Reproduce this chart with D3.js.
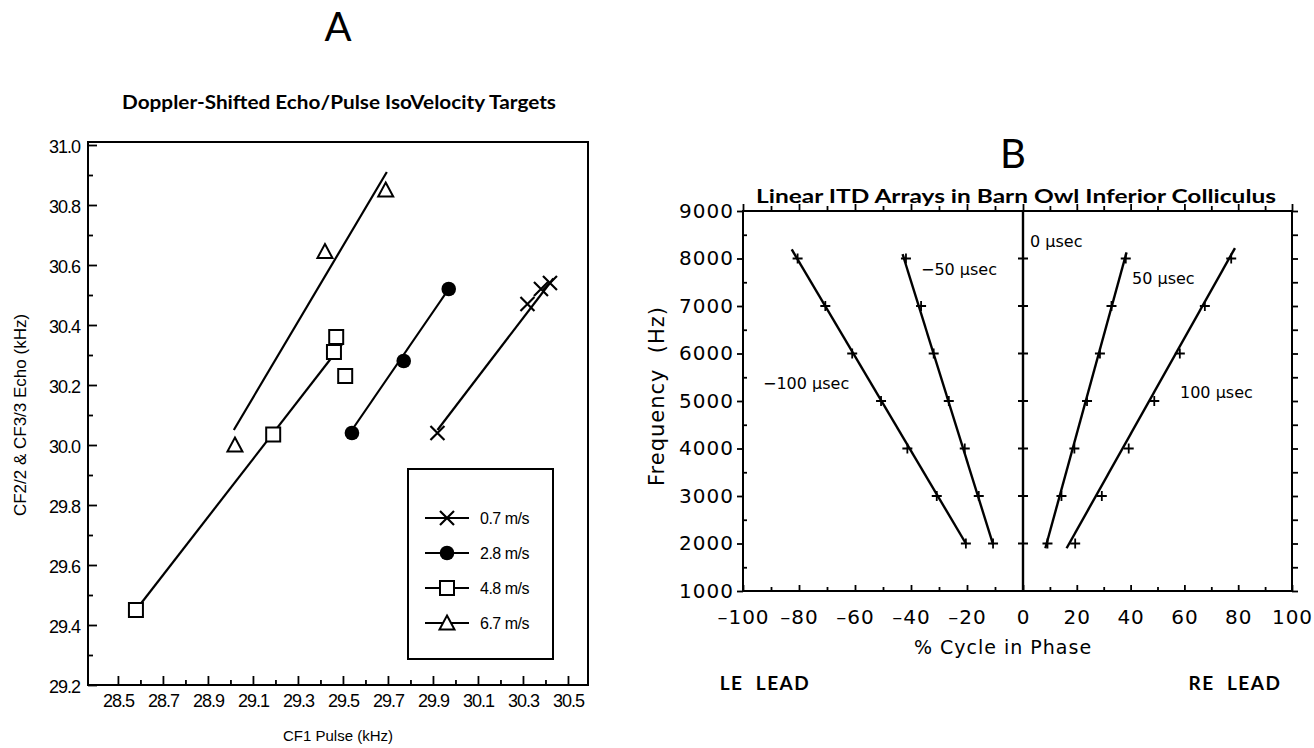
<!DOCTYPE html>
<html><head><meta charset="utf-8">
<script src="https://cdn.jsdelivr.net/npm/d3@7"></script>
<style>body{margin:0;background:#fff}svg{display:block}</style>
</head><body>
<svg id="c" width="1314" height="748"></svg>
<script>
// ---------- Panel A data ----------
const seriesA = ["0.7 m/s", "2.8 m/s", "4.8 m/s", "6.7 m/s"];
const pulse07 = [29.92, 30.32, 30.38, 30.42];
const echo07  = [30.04, 30.47, 30.52, 30.54];
const pulse28 = [29.54, 29.77, 29.97];
const echo28  = [30.04, 30.28, 30.52];
const pulse48 = [28.58, 29.19, 29.46, 29.47, 29.51];
const echo48  = [29.45, 30.035, 30.31, 30.36, 30.23];
const pulse67 = [29.02, 29.42, 29.69];
const echo67  = [30.00, 30.645, 30.85];
// regression line endpoints [pulse, echo]
const fit07 = [[29.92, 30.05], [30.435, 30.555]];
const fit28 = [[29.54, 30.05], [29.97, 30.52]];
const fit48 = [[28.58, 29.45], [29.495, 30.335]];
const fit67 = [[29.015, 30.05], [29.695, 30.91]];
const xTicksA = [28.5, 28.7, 28.9, 29.1, 29.3, 29.5, 29.7, 29.9, 30.1, 30.3, 30.5];
const xMinorA = [28.6, 28.8, 29.0, 29.2, 29.4, 29.6, 29.8, 30.0, 30.2, 30.4];
const yTicksA = [29.2, 29.4, 29.6, 29.8, 30.0, 30.2, 30.4, 30.6, 30.8, 31.0];
const yMinorA = [29.3, 29.5, 29.7, 29.9, 30.1, 30.3, 30.5, 30.7, 30.9];

// ---------- Panel B data ----------
const freqB = [2000, 3000, 4000, 5000, 6000, 7000, 8000];
const itdLabels = ["\u2212100 \u00b5sec", "\u221250 \u00b5sec", "0 \u00b5sec", "50 \u00b5sec", "100 \u00b5sec"];
const phaseM100 = [-20.4, -30.8, -41.3, -50.7, -61.0, -70.6, -80.5];
const phaseM50  = [-10.7, -15.8, -20.8, -26.5, -31.9, -36.4, -41.8];
const phase0    = [0, 0, 0, 0, 0, 0, 0];
const phaseP50  = [9.1, 14.3, 19.1, 23.8, 28.6, 32.9, 38.2];
const phaseP100 = [19.4, 29.3, 39.3, 48.8, 58.3, 67.6, 77.4];
// fitted line endpoints [phase, freq]
const lineM100 = [[-82.6, 8190], [-20.4, 2000]];
const lineM50  = [[-43.0, 8090], [-10.7, 1980]];
const line0    = [[0, 1000], [0, 9000]];
const lineP50  = [[8.3, 1900], [38.5, 8130]];
const lineP100 = [[16.2, 1900], [78.8, 8220]];
const xTicksB = [-100, -80, -60, -40, -20, 0, 20, 40, 60, 80, 100];
const xMinorB = [-90, -70, -50, -30, -10, 10, 30, 50, 70, 90];
const yTicksB = [1000, 2000, 3000, 4000, 5000, 6000, 7000, 8000, 9000];
const yMinorB = [1500, 2500, 3500, 4500, 5500, 6500, 7500, 8500];

const svg = d3.select("#c");

// ================= PANEL A =================
const xA = d3.scaleLinear().domain([28.367, 30.589]).range([88, 588]);
const yA = d3.scaleLinear().domain([29.2, 31.01]).range([685, 142]);
const gA = svg.append("g");
const tickFontA = "'Liberation Sans', Arial, sans-serif";

gA.append("text").attr("x", 338).attr("y", 41).attr("text-anchor", "middle")
  .style("font-family", "Lato, sans-serif").style("font-size", "40px").text("A");
gA.append("text").attr("x", 339).attr("y", 109).attr("text-anchor", "middle")
  .attr("textLength", 434).attr("lengthAdjust", "spacingAndGlyphs")
  .style("font-family", "Lato, sans-serif").style("font-weight", "bold").style("font-size", "18px")
  .text("Doppler-Shifted Echo/Pulse IsoVelocity Targets");

const axXA = gA.append("g").attr("transform", `translate(0,${yA.range()[0]})`)
  .call(d3.axisBottom(xA).tickValues(xTicksA).tickSizeInner(-9).tickSizeOuter(0).tickPadding(9).tickFormat(d3.format(".1f")));
const axXAm = gA.append("g").attr("transform", `translate(0,${yA.range()[0]})`)
  .call(d3.axisBottom(xA).tickValues(xMinorA).tickSizeInner(-5).tickSizeOuter(0).tickFormat(""));
const axYA = gA.append("g").attr("transform", `translate(${xA.range()[0]},0)`)
  .call(d3.axisLeft(yA).tickValues(yTicksA).tickSizeInner(-9).tickSizeOuter(0).tickPadding(8).tickFormat(d3.format(".1f")));
const axYAm = gA.append("g").attr("transform", `translate(${xA.range()[0]},0)`)
  .call(d3.axisLeft(yA).tickValues(yMinorA).tickSizeInner(-5).tickSizeOuter(0).tickFormat(""));
[axXA, axXAm, axYA, axYAm].forEach(a => {
  a.select(".domain").remove();
  a.selectAll("line").attr("stroke", "#000").attr("stroke-width", 1.8);
  a.selectAll("text").style("font-family", tickFontA).style("font-size", "18px").style("letter-spacing", "-1px").attr("fill", "#000");
});
axYA.selectAll("text").attr("dy", "0.4em");
gA.append("rect").attr("x", xA.range()[0]).attr("y", yA.range()[1])
  .attr("width", xA.range()[1] - xA.range()[0]).attr("height", yA.range()[0] - yA.range()[1])
  .attr("fill", "none").attr("stroke", "#000").attr("stroke-width", 2);

gA.append("text").attr("transform", "translate(26,415) rotate(-90)").attr("text-anchor", "middle")
  .style("font-family", tickFontA).style("font-size", "17px").text("CF2/2 & CF3/3 Echo (kHz)");
gA.append("text").attr("x", 338).attr("y", 741).attr("text-anchor", "middle")
  .style("font-family", tickFontA).style("font-size", "15px").text("CF1 Pulse (kHz)");

function drawMarker(g, type, cx, cy) {
  if (type === 0) {
    const s = 7;
    g.append("path").attr("d", `M${cx - s},${cy - s}L${cx + s},${cy + s}M${cx - s},${cy + s}L${cx + s},${cy - s}`)
      .attr("stroke", "#000").attr("stroke-width", 2.2).attr("fill", "none");
  } else if (type === 1) {
    g.append("circle").attr("cx", cx).attr("cy", cy).attr("r", 7.3).attr("fill", "#000");
  } else if (type === 2) {
    g.append("rect").attr("x", cx - 7).attr("y", cy - 7).attr("width", 14).attr("height", 14)
      .attr("fill", "#fff").attr("stroke", "#000").attr("stroke-width", 2);
  } else {
    g.append("path").attr("d", `M${cx},${cy - 7.5}L${cx + 7.5},${cy + 6.5}L${cx - 7.5},${cy + 6.5}Z`)
      .attr("fill", "#fff").attr("stroke", "#000").attr("stroke-width", 2);
  }
}
const lineGen = d3.line().x(d => xA(d[0])).y(d => yA(d[1]));
const fitsA = [fit07, fit28, fit48, fit67];
const ptsA = [[pulse07, echo07], [pulse28, echo28], [pulse48, echo48], [pulse67, echo67]];
fitsA.forEach(f => gA.append("path").attr("d", lineGen(f)).attr("stroke", "#000").attr("stroke-width", 2.2).attr("fill", "none"));
ptsA.forEach((p, i) => p[0].forEach((x, j) => drawMarker(gA, i, xA(x), yA(p[1][j]))));

const lg = gA.append("g");
lg.append("rect").attr("x", 408).attr("y", 469).attr("width", 145).attr("height", 190)
  .attr("fill", "#fff").attr("stroke", "#000").attr("stroke-width", 2);
seriesA.forEach((s, i) => {
  const y = 518 + i * 35;
  lg.append("line").attr("x1", 425).attr("x2", 469).attr("y1", y).attr("y2", y).attr("stroke", "#000").attr("stroke-width", 2);
  drawMarker(lg, i, 447, y);
  lg.append("text").attr("x", 480).attr("y", y + 6).style("font-family", tickFontA).style("font-size", "16px")
    .style("letter-spacing", "-0.5px").text(s);
});

// ================= PANEL B =================
const xB = d3.scaleLinear().domain([-100, 0, 100]).range([743, 1023, 1292]);
const yB = d3.scaleLinear().domain([1000, 9000]).range([591, 211]);
const gB = svg.append("g");
const fontB = "'DejaVu Sans', sans-serif";

gB.append("text").attr("x", 1013).attr("y", 168).attr("text-anchor", "middle")
  .style("font-family", "Lato, sans-serif").style("font-size", "40px").text("B");
gB.append("text").attr("x", 1016).attr("y", 203).attr("text-anchor", "middle")
  .attr("textLength", 520).attr("lengthAdjust", "spacingAndGlyphs")
  .style("font-family", "Lato, sans-serif").style("font-weight", "bold").style("font-size", "18px")
  .text("Linear ITD Arrays in Barn Owl Inferior Colliculus");

const fmtB = d => (d < 0 ? "\u2013" + Math.abs(d) : String(d));
const bx = gB.append("g").attr("transform", `translate(0,${yB.range()[0]})`)
  .call(d3.axisBottom(xB).tickValues(xTicksB).tickSizeInner(-6).tickSizeOuter(0).tickPadding(19).tickFormat(fmtB));
const bxm = gB.append("g").attr("transform", `translate(0,${yB.range()[0]})`)
  .call(d3.axisBottom(xB).tickValues(xMinorB).tickSizeInner(-4).tickSizeOuter(0).tickFormat(""));
const bt = gB.append("g").attr("transform", `translate(0,${yB.range()[1]})`)
  .call(d3.axisTop(xB).tickValues(xTicksB).tickSizeInner(7).tickSizeOuter(0).tickFormat(""));
const btm = gB.append("g").attr("transform", `translate(0,${yB.range()[1]})`)
  .call(d3.axisTop(xB).tickValues(xMinorB).tickSizeInner(5).tickSizeOuter(0).tickFormat(""));
const by = gB.append("g").attr("transform", `translate(${xB.range()[0]},0)`)
  .call(d3.axisLeft(yB).tickValues(yTicksB).tickSizeInner(6).tickSizeOuter(0).tickPadding(3).tickFormat(d3.format("d")));
const bym = gB.append("g").attr("transform", `translate(${xB.range()[0]},0)`)
  .call(d3.axisLeft(yB).tickValues(yMinorB).tickSizeInner(-4).tickSizeOuter(0).tickFormat(""));
const br = gB.append("g").attr("transform", `translate(${xB.range()[2]},0)`)
  .call(d3.axisRight(yB).tickValues(yTicksB.concat(yMinorB)).tickSizeInner(6).tickSizeOuter(0).tickFormat(""));
[bx, bxm, bt, btm, by, bym, br].forEach(a => {
  a.select(".domain").remove();
  a.selectAll("line").attr("stroke", "#000").attr("stroke-width", 1.8);
  a.selectAll("text").style("font-family", fontB).style("font-size", "20px").style("letter-spacing", "1px").attr("fill", "#000");
});
gB.append("rect").attr("x", xB.range()[0]).attr("y", yB.range()[1])
  .attr("width", xB.range()[2] - xB.range()[0]).attr("height", yB.range()[0] - yB.range()[1])
  .attr("fill", "none").attr("stroke", "#000").attr("stroke-width", 2);

gB.append("text").attr("transform", "translate(664,396) rotate(-90)").attr("text-anchor", "middle")
  .style("font-family", fontB).style("font-size", "21px").style("letter-spacing", "1px")
  .attr("xml:space", "preserve").text("Frequency  (Hz)");
gB.append("text").attr("x", 1003).attr("y", 654).attr("text-anchor", "middle")
  .style("font-family", fontB).style("font-size", "19px").style("letter-spacing", "1px").text("% Cycle in Phase");
gB.append("text").attr("x", 765).attr("y", 690).attr("text-anchor", "middle")
  .style("font-family", "Lato, sans-serif").style("font-weight", "bold").style("font-size", "19px").style("letter-spacing", "1.5px")
  .attr("xml:space", "preserve").text("LE  LEAD");
gB.append("text").attr("x", 1235).attr("y", 690).attr("text-anchor", "middle")
  .style("font-family", "Lato, sans-serif").style("font-weight", "bold").style("font-size", "19px").style("letter-spacing", "1.5px")
  .attr("xml:space", "preserve").text("RE  LEAD");

const lineB = d3.line().x(d => xB(d[0])).y(d => yB(d[1]));
[lineM100, lineM50, line0, lineP50, lineP100].forEach(l =>
  gB.append("path").attr("d", lineB(l)).attr("stroke", "#000").attr("stroke-width", 2.4).attr("fill", "none"));
[phaseM100, phaseM50, phase0, phaseP50, phaseP100].forEach(arr =>
  arr.forEach((p, j) => {
    const cx = xB(p), cy = yB(freqB[j]);
    gB.append("path").attr("d", `M${cx - 5},${cy}L${cx + 5},${cy}M${cx},${cy - 5}L${cx},${cy + 5}`)
      .attr("stroke", "#000").attr("stroke-width", 1.8);
  }));
const labelPos = [[763, 389], [921, 275], [1030, 247], [1132, 284], [1180, 398]];
itdLabels.forEach((t, i) => gB.append("text").attr("x", labelPos[i][0]).attr("y", labelPos[i][1])
  .style("font-family", fontB).style("font-size", "16px").text(t));
</script>
</body></html>
